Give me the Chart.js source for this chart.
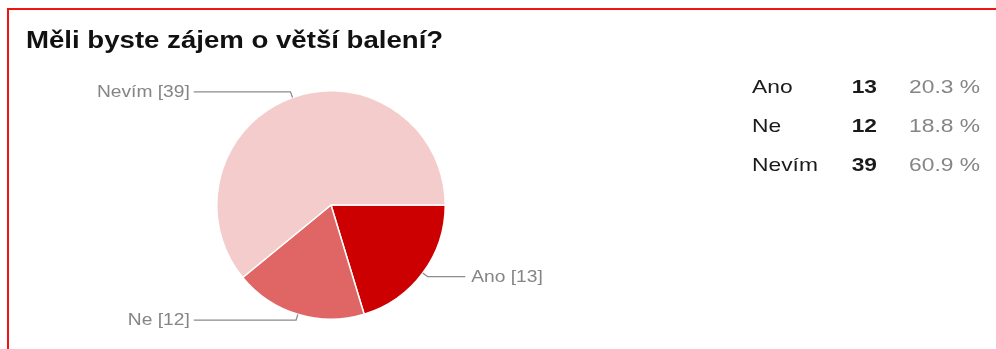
<!DOCTYPE html>
<html>
<head>
<meta charset="utf-8">
<script src="https://cdn.jsdelivr.net/npm/chart.js@4"></script>
<style>
	html, body { margin: 0; padding: 0; background: #fff; }
	#wrap { position: relative; width: 996px; height: 349px; overflow: hidden; }
	#frame { position: absolute; left: 7px; top: 8px; width: 1100px; height: 400px;
		border-top: 2px solid #f01414; border-left: 2px solid #f01414; }
	canvas { position: absolute; left: 0; top: 0; }
</style>
</head>
<body>
<div id="wrap">
	<div id="frame"></div>
	<canvas id="pieChart" width="996" height="349"></canvas>
</div>
<script>
const title = 'Měli byste zájem o větší balení?';
const categories = ['Ano', 'Ne', 'Nevím'];
const counts = [13, 12, 39];
const colors = ['#cc0000', '#e06666', '#f4cccc'];

const FONT = '"Liberation Sans", Arial, sans-serif';
const STRETCH = 1.2; // text in the screenshot is a bit wider than plain Arial

const total = counts.reduce((a, b) => a + b, 0);
const percents = counts.map((c) => (c / total * 100).toFixed(1) + ' %');

function drawText(ctx, text, x, y, font, color, align) {
	ctx.save();
	ctx.font = font;
	ctx.fillStyle = color;
	ctx.textBaseline = 'middle';
	ctx.textAlign = align;
	ctx.translate(x, y);
	ctx.scale(STRETCH, 1);
	ctx.fillText(text, 0, 0);
	ctx.restore();
}

const labelsPlugin = {
	id: 'labelsPlugin',
	afterDraw(chart) {
		const ctx = chart.ctx;
		const arcs = chart.getDatasetMeta(0).data;

		// title
		drawText(ctx, title, 26, 42, 'bold 23px ' + FONT, '#111', 'left');

		// slice labels with leader lines
		arcs.forEach((arc, i) => {
			const mid = (arc.startAngle + arc.endAngle) / 2;
			const cos = Math.cos(mid);
			const sin = Math.sin(mid);
			const x0 = arc.x + cos * arc.outerRadius;
			const y0 = arc.y + sin * arc.outerRadius;
			const x1 = arc.x + cos * (arc.outerRadius + 6);
			const y1 = arc.y + sin * (arc.outerRadius + 6);
			const right = cos >= 0;
			const x2 = right ? arc.x + arc.outerRadius + 20 : arc.x - arc.outerRadius - 23;

			ctx.save();
			ctx.strokeStyle = '#8c8c8c';
			ctx.lineWidth = 1.3;
			ctx.beginPath();
			ctx.moveTo(x0, y0);
			ctx.lineTo(x1, y1);
			ctx.lineTo(x2, y1);
			ctx.stroke();
			ctx.restore();

			const text = categories[i] + ' [' + counts[i] + ']';
			drawText(ctx, text, right ? x2 + 6 : x2 - 4, y1 + 1, '16px ' + FONT, '#858585', right ? 'left' : 'right');
		});

		// summary table
		categories.forEach((cat, i) => {
			const y = 88 + i * 39;
			drawText(ctx, cat, 752, y, '19px ' + FONT, '#1a1a1a', 'left');
			drawText(ctx, String(counts[i]), 877, y, 'bold 19px ' + FONT, '#1a1a1a', 'right');
			drawText(ctx, percents[i], 980, y, '19px ' + FONT, '#858585', 'right');
		});
	}
};

const canvas = document.querySelector('#pieChart');
const pieChart = new Chart(canvas, {
	type: 'pie',
	data: {
		labels: categories,
		datasets: [
			{
				data: counts,
				backgroundColor: colors,
				borderColor: '#ffffff',
				borderWidth: 1.5,
			},
		],
	},
	options: {
		responsive: false,
		animation: false,
		rotation: 90,
		layout: {
			padding: { left: 216, right: 550, top: 90, bottom: 29 },
		},
		plugins: {
			legend: { display: false },
			tooltip: { enabled: false },
		},
	},
	plugins: [labelsPlugin],
});
</script>
</body>
</html>
